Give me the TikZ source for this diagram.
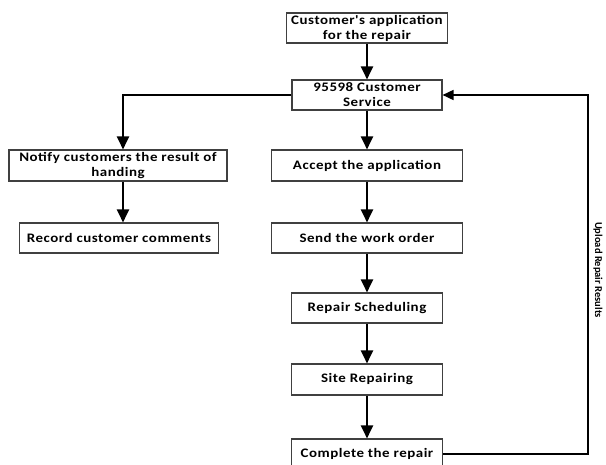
\documentclass[tikz,border=0pt]{standalone}
\usepackage{fontspec}
\setmainfont{Carlito}
\newfontfamily\boxfont[FakeStretch=1.15,LetterSpace=4]{Carlito}
\usetikzlibrary{arrows.meta}
\begin{document}
\begin{tikzpicture}[x=1pt,y=-1pt,
  box/.style={draw=black!75,line width=1.1pt,fill=white,align=center,inner sep=1pt,
    font=\boxfont\bfseries\fontsize{13}{15}\selectfont},
  arr/.style={line width=2pt,-{Triangle[length=13pt,width=12pt]}},
  feed/.style={line width=1.6pt,-{Triangle[length=11pt,width=10pt]}}]
\clip (0,0) rectangle (606,465);
\useasboundingbox (0,0) rectangle (606,465);
\node[box,minimum width=161pt,minimum height=30pt] (app) at (367,28) {Customer's application\\for the repair};
\node[box,minimum width=150pt,minimum height=30pt] (svc) at (367,95) {95598 Customer\\Service};
\node[box,minimum width=218pt,minimum height=31pt] (notify) at (118,165.5) {Notify customers the result of\\handing};
\node[box,minimum width=199pt,minimum height=30pt] (record) at (119,238) {Record customer comments};
\node[box,minimum width=191pt,minimum height=31pt] (accept) at (367,165.5) {Accept the application};
\node[box,minimum width=191pt,minimum height=30pt] (send) at (367,238) {Send the work order};
\node[box,minimum width=151pt,minimum height=30pt] (sched) at (367,308) {Repair Scheduling};
\node[box,minimum width=151pt,minimum height=31pt] (site) at (367,379.5) {Site Repairing};
\node[box,minimum width=151pt,minimum height=30pt] (done) at (367,454) {Complete the repair};
\coordinate (corner) at (588,454);
\node[font=\bfseries\fontsize{10.5}{11}\selectfont,rotate=-90] (upl) at (598,270) {Upload Repair Results};
\draw[arr] (app) -- (svc);
\draw[arr] (svc) -- (accept);
\draw[arr] (accept) -- (send);
\draw[arr] (send) -- (sched);
\draw[arr] (sched) -- (site);
\draw[arr] (site) -- (done);
\draw[arr] (notify.south -| 123,0) -- (record.north -| 123,0);
\draw[arr] (svc.west) -| (notify.north -| 123,0);
\draw[feed] (done.east) -- (corner) |- (svc.east);
\end{tikzpicture}
\end{document}
